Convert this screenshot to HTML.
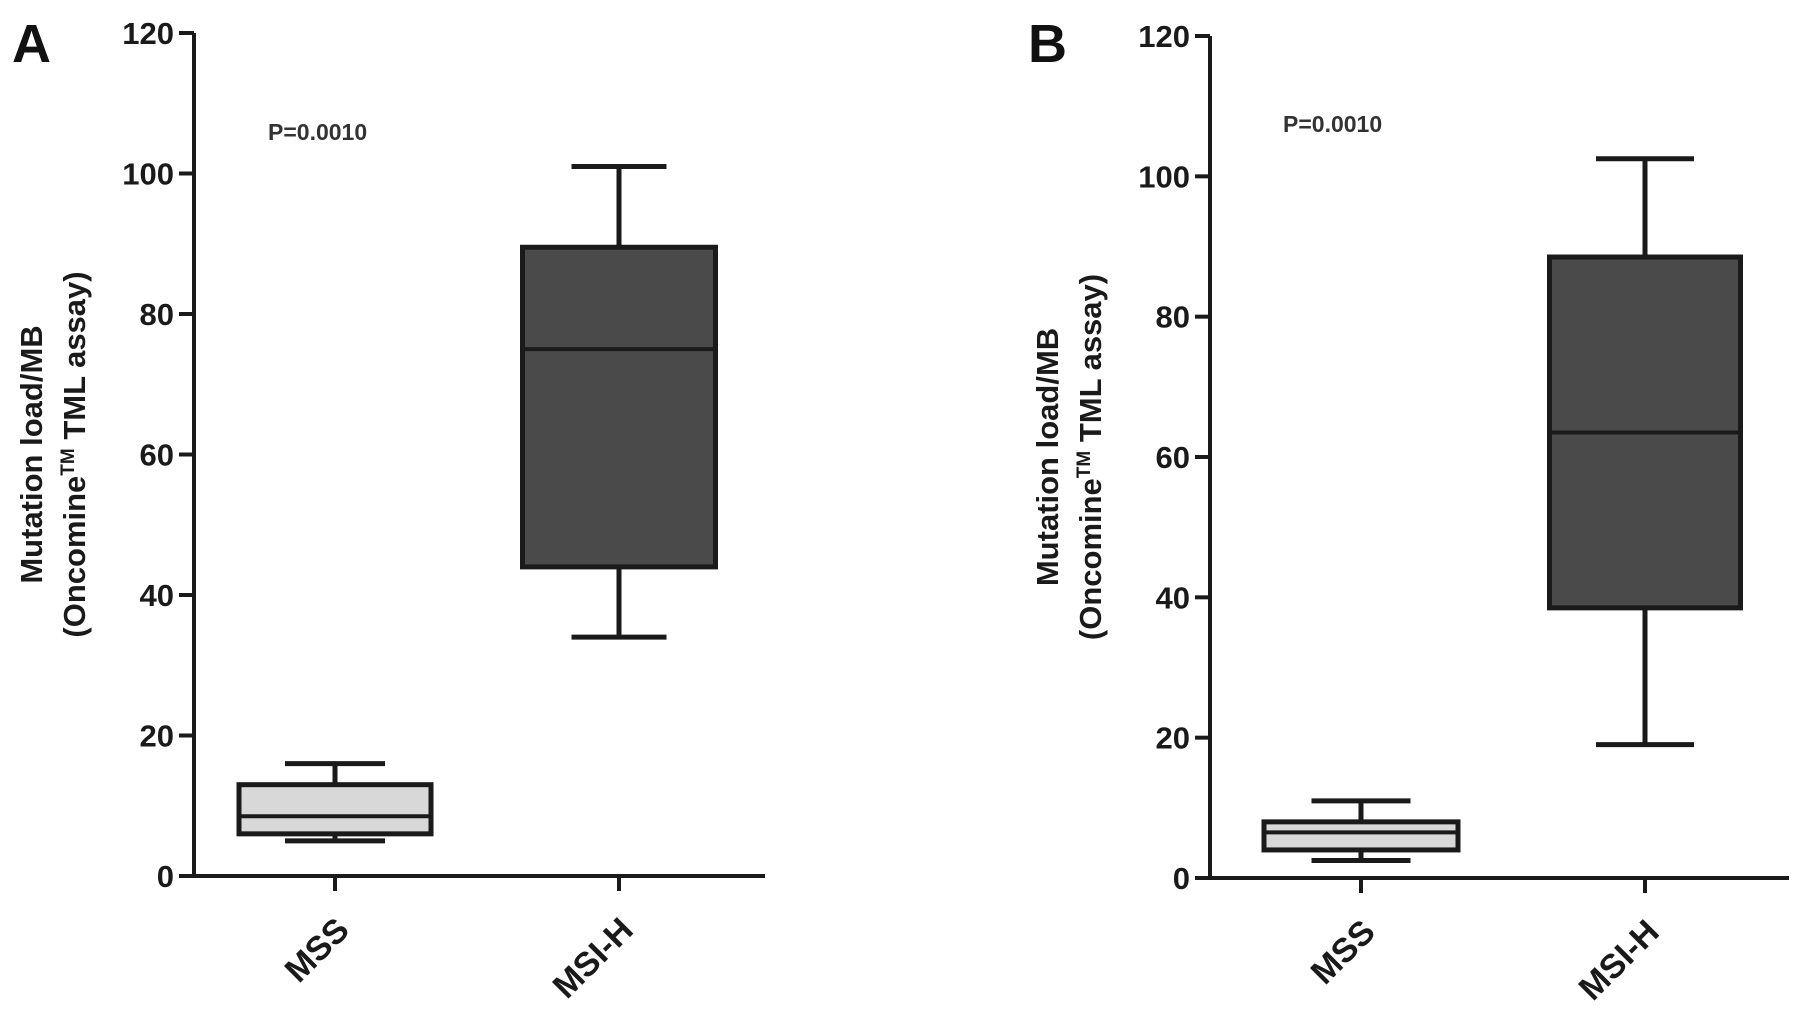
<!DOCTYPE html>
<html><head><meta charset="utf-8"><style>
body{margin:0;background:#fff}
svg{display:block;font-family:"Liberation Sans",Arial,sans-serif;font-weight:bold}
</style></head><body>
<svg id="chart" width="1795" height="1031" viewBox="0 0 1795 1031"></svg>
<script>
const categories = ["MSS","MSI-H"];
const yTicks = [0,20,40,60,80,100,120];
const panelLabels = ["A","B"];
const pText = ["P=0.0010","P=0.0010"];
// per panel: [min, q1, median, q3, max] for each category
const panelAStats = [[5,6,8.5,13,16],[34,44,75,89.5,101]];
const panelBStats = [[2.5,4,6.5,8,11],[19,38.5,63.5,88.5,102.5]];
const panels = [
 {stats:panelAStats, ax:194, y0:876, y1:33, xr:765, cx:[335,619], bw:[192,193], cw:[100,95], lx:12, px:268, py:140},
 {stats:panelBStats, ax:1210, y0:878, y1:36, xr:1789, cx:[1361,1645], bw:[194,191], cw:[99,98], lx:1028, px:1283, py:132}
];
const NS="http://www.w3.org/2000/svg";
const svg=document.getElementById('chart');
function mk(tag,attrs,parent){const e=document.createElementNS(NS,tag);for(const k in attrs)e.setAttribute(k,attrs[k]);(parent||svg).appendChild(e);return e;}
const fills=["#d8d8d8","#4a4a4a"];
panels.forEach((p,pi)=>{
 const g=mk('g',{});
 
 
 const y=v=>p.y0-(v/120)*(p.y0-p.y1);
 const lab=mk('text',{x:p.lx,y:62,'font-size':54,fill:'#111'},g);lab.textContent=panelLabels[pi];
 
 
 const ya=mk('line',{x1:p.ax,y1:p.y1,x2:p.ax,y2:p.y0,stroke:'#1a1a1a','stroke-width':4},g);
 
 
 const xa=mk('line',{x1:p.ax-2,y1:p.y0,x2:p.xr,y2:p.y0,stroke:'#1a1a1a','stroke-width':4},g);
 
 
 yTicks.forEach(t=>{
  mk('line',{x1:p.ax-15,y1:y(t),x2:p.ax,y2:y(t),stroke:'#1a1a1a','stroke-width':4},g);
  const tx=mk('text',{x:p.ax-20,y:y(t)+11,'font-size':31,'text-anchor':'end',fill:'#1a1a1a'},g);tx.textContent=t;
  
  
 });
 const tt=mk('text',{transform:`translate(${p.ax-152},${y(60)}) rotate(-90)`,'font-size':31,'text-anchor':'middle',fill:'#1a1a1a'},g);
 tt.textContent='Mutation load/MB';
 
 
 const t2=mk('text',{transform:`translate(${p.ax-109},${y(60)}) rotate(-90)`,'font-size':31,'text-anchor':'middle',fill:'#1a1a1a'},g);
 t2.innerHTML='(Oncomine<tspan font-size="19" dy="-11">TM</tspan><tspan dy="11"> TML assay)</tspan>';
 
 
 const pt=mk('text',{x:p.px,y:p.py,'font-size':23,fill:'#333'},g);pt.textContent=pText[pi];
 
 
 categories.forEach((c,ci)=>{
  const s=p.stats[ci],cx=p.cx[ci],bw=p.bw[ci],cw=p.cw[ci];
  const bg=mk('g',{},g);
  
  
  mk('line',{x1:cx,y1:y(s[0]),x2:cx,y2:y(s[4]),stroke:'#1a1a1a','stroke-width':5},bg);
  mk('line',{x1:cx-cw/2,y1:y(s[0]),x2:cx+cw/2,y2:y(s[0]),stroke:'#1a1a1a','stroke-width':5},bg);
  mk('line',{x1:cx-cw/2,y1:y(s[4]),x2:cx+cw/2,y2:y(s[4]),stroke:'#1a1a1a','stroke-width':5},bg);
  mk('rect',{x:cx-bw/2,y:y(s[3]),width:bw,height:y(s[1])-y(s[3]),fill:fills[ci],stroke:'#1a1a1a','stroke-width':5},bg);
  mk('line',{x1:cx-bw/2,y1:y(s[2]),x2:cx+bw/2,y2:y(s[2]),stroke:'#1a1a1a','stroke-width':4},bg);
  mk('line',{x1:cx,y1:p.y0,x2:cx,y2:p.y0+15,stroke:'#1a1a1a','stroke-width':4},g);
  const cl=mk('text',{transform:`translate(${cx+16},${p.y0+56}) rotate(-45)`,'font-size':34,'text-anchor':'end',fill:'#1a1a1a'},g);
  cl.textContent=c;
  
  
 });
});
</script>
</body></html>
